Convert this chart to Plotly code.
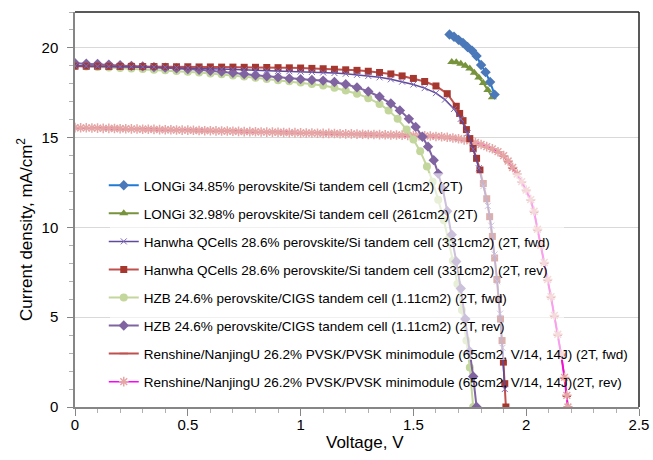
import plotly.graph_objects as go

# ---------------- data ----------------
V_longi_1 = [1.66, 1.68, 1.70, 1.72, 1.74, 1.76, 1.78, 1.80, 1.82, 1.84, 1.86]
J_longi_1 = [20.75, 20.62, 20.45, 20.28, 20.05, 19.85, 19.55, 19.05, 18.65, 18.10, 17.40]

V_longi_2 = [1.67, 1.69, 1.71, 1.73, 1.75, 1.77, 1.79, 1.81, 1.83, 1.85]
J_longi_2 = [19.22, 19.20, 19.12, 19.00, 18.85, 18.62, 18.35, 18.05, 17.65, 17.25]

V_hanwha_fwd = [0.00, 0.05, 0.10, 0.15, 0.20, 0.25, 0.30, 0.35, 0.40, 0.45, 0.50, 0.55, 0.60,
                0.65, 0.70, 0.75, 0.80, 0.85, 0.90, 0.95, 1.00, 1.05, 1.10, 1.15, 1.20, 1.25,
                1.30, 1.35, 1.40, 1.45, 1.50, 1.55, 1.60, 1.64, 1.68, 1.71, 1.74, 1.765, 1.79,
                1.81, 1.83, 1.845, 1.86, 1.872, 1.884, 1.895, 1.905]
J_hanwha_fwd = [19.00, 18.99, 18.98, 18.97, 18.96, 18.95, 18.94, 18.93, 18.92, 18.90, 18.88, 18.86, 18.84,
                18.82, 18.80, 18.78, 18.76, 18.74, 18.72, 18.70, 18.68, 18.66, 18.63, 18.60, 18.56, 18.50,
                18.44, 18.36, 18.25, 18.12, 17.96, 17.76, 17.48, 17.12, 16.60, 16.05, 15.25, 14.35, 13.30,
                12.30, 11.20, 10.10, 8.50, 7.00, 5.20, 3.30, 1.00]

V_hanwha_rev = [0.00, 0.05, 0.10, 0.15, 0.20, 0.25, 0.30, 0.35, 0.40, 0.45, 0.50, 0.55, 0.60,
                0.65, 0.70, 0.75, 0.80, 0.85, 0.90, 0.95, 1.00, 1.05, 1.10, 1.15, 1.20, 1.25,
                1.30, 1.35, 1.40, 1.45, 1.50, 1.55, 1.60, 1.65, 1.69, 1.705, 1.72, 1.735, 1.75,
                1.765, 1.78, 1.795, 1.81, 1.825, 1.838, 1.85, 1.86, 1.87, 1.878, 1.886, 1.893,
                1.899, 1.905, 1.91]
J_hanwha_rev = [18.98, 18.98, 18.98, 18.97, 18.97, 18.97, 18.96, 18.96, 18.96, 18.95, 18.95, 18.94, 18.94,
                18.93, 18.93, 18.92, 18.92, 18.91, 18.90, 18.89, 18.88, 18.86, 18.84, 18.81, 18.78, 18.75,
                18.70, 18.63, 18.55, 18.44, 18.30, 18.13, 17.88, 17.45, 16.75, 16.35, 15.95, 15.45, 14.95,
                14.40, 13.85, 13.20, 12.45, 11.60, 10.60, 9.50, 8.30, 7.10, 6.00, 4.90, 3.70,
                2.50, 1.30, 0.00]

V_hzb_fwd = [0.00, 0.05, 0.10, 0.15, 0.20, 0.25, 0.30, 0.35, 0.40, 0.45, 0.50, 0.55, 0.60,
             0.65, 0.70, 0.75, 0.80, 0.85, 0.90, 0.95, 1.00, 1.05, 1.10, 1.15, 1.20, 1.25,
             1.30, 1.35, 1.39, 1.43, 1.47, 1.50, 1.53, 1.56, 1.585, 1.61, 1.635, 1.655, 1.675,
             1.695, 1.715, 1.735, 1.75, 1.765]
J_hzb_fwd = [19.00, 18.97, 18.94, 18.91, 18.88, 18.85, 18.82, 18.79, 18.75, 18.71, 18.67, 18.63, 18.58,
             18.53, 18.47, 18.41, 18.34, 18.27, 18.20, 18.14, 18.07, 17.99, 17.90, 17.78, 17.63, 17.45,
             17.20, 16.88, 16.52, 16.05, 15.45, 14.90, 14.25, 13.40, 12.55, 11.55, 10.40, 9.35, 8.15,
             6.85, 5.40, 3.70, 2.20, 0.00]

V_hzb_rev = [0.00, 0.05, 0.10, 0.15, 0.20, 0.25, 0.30, 0.35, 0.40, 0.45, 0.50, 0.55, 0.60,
             0.65, 0.70, 0.75, 0.80, 0.85, 0.90, 0.95, 1.00, 1.05, 1.10, 1.15, 1.20, 1.25,
             1.30, 1.35, 1.40, 1.44, 1.48, 1.51, 1.54, 1.565, 1.59, 1.61, 1.63, 1.65, 1.67,
             1.69, 1.71, 1.73, 1.75, 1.765, 1.78]
J_hzb_rev = [19.15, 19.12, 19.10, 19.07, 19.04, 19.00, 18.97, 18.93, 18.90, 18.86, 18.82, 18.78, 18.73,
             18.68, 18.62, 18.55, 18.48, 18.42, 18.36, 18.30, 18.26, 18.21, 18.18, 18.10, 17.98, 17.80,
             17.57, 17.28, 16.90, 16.52, 16.05, 15.60, 15.05, 14.50, 13.75, 13.00, 12.15, 10.90, 9.60,
             8.10, 6.60, 4.90, 3.10, 1.70, 0.00]

V_renshine = [0.000, 0.025, 0.050, 0.075, 0.100, 0.125, 0.150, 0.175, 0.200, 0.225, 0.250, 0.275,
              0.300, 0.325, 0.350, 0.375, 0.400, 0.425, 0.450, 0.475, 0.500, 0.525, 0.550, 0.575,
              0.600, 0.625, 0.650, 0.675, 0.700, 0.725, 0.750, 0.775, 0.800, 0.825, 0.850, 0.875,
              0.900, 0.925, 0.950, 0.975, 1.000, 1.025, 1.050, 1.075, 1.100, 1.125, 1.150, 1.175,
              1.200, 1.225, 1.250, 1.275, 1.300, 1.325, 1.350, 1.375, 1.400, 1.425, 1.450, 1.475,
              1.500, 1.525, 1.550, 1.575, 1.600, 1.625, 1.650, 1.675, 1.700, 1.725, 1.750, 1.775,
              1.800, 1.825, 1.850, 1.875, 1.900, 1.920, 1.940, 1.960, 1.980, 2.000, 2.020, 2.035,
              2.050, 2.065, 2.080, 2.095, 2.110, 2.125, 2.140, 2.155, 2.170, 2.180, 2.185]
J_renshine_fwd = [15.55, 15.55, 15.54, 15.53, 15.53, 15.52, 15.51, 15.51, 15.50, 15.49, 15.48, 15.48,
                  15.47, 15.46, 15.46, 15.45, 15.44, 15.43, 15.43, 15.42, 15.41, 15.41, 15.40, 15.39,
                  15.38, 15.38, 15.37, 15.36, 15.36, 15.35, 15.34, 15.33, 15.33, 15.32, 15.31, 15.30,
                  15.30, 15.29, 15.28, 15.27, 15.27, 15.26, 15.26, 15.25, 15.24, 15.23, 15.23, 15.22,
                  15.21, 15.20, 15.20, 15.19, 15.18, 15.17, 15.17, 15.16, 15.15, 15.14, 15.14, 15.13,
                  15.12, 15.11, 15.10, 15.08, 15.06, 15.04, 15.01, 14.97, 14.93, 14.87, 14.80, 14.71,
                  14.60, 14.48, 14.36, 14.20, 13.98, 13.66, 13.30, 12.96, 12.52, 12.05, 11.52, 10.85,
                  9.85, 8.95, 8.00, 7.05, 6.10, 5.05, 4.00, 2.90, 1.60, 0.60, 0.00]
J_renshine_rev = [15.56, 15.55, 15.55, 15.54, 15.53, 15.52, 15.52, 15.51, 15.50, 15.50, 15.49, 15.48,
                  15.47, 15.47, 15.46, 15.45, 15.44, 15.44, 15.43, 15.42, 15.42, 15.41, 15.40, 15.39,
                  15.39, 15.38, 15.37, 15.37, 15.36, 15.35, 15.34, 15.34, 15.33, 15.32, 15.31, 15.31,
                  15.30, 15.29, 15.28, 15.28, 15.27, 15.26, 15.26, 15.25, 15.24, 15.24, 15.23, 15.22,
                  15.21, 15.21, 15.20, 15.19, 15.18, 15.18, 15.17, 15.16, 15.15, 15.15, 15.14, 15.13,
                  15.12, 15.11, 15.10, 15.09, 15.07, 15.05, 15.02, 14.98, 14.94, 14.88, 14.82, 14.73,
                  14.62, 14.50, 14.38, 14.22, 14.00, 13.70, 13.34, 12.98, 12.55, 12.08, 11.55, 10.90,
                  9.90, 9.00, 8.05, 7.10, 6.15, 5.10, 4.05, 2.95, 1.65, 0.65, 0.00]

X_TITLE = "Voltage, V"
Y_TITLE = "Current density, mA/cm<sup>2</sup>"

# ---------------- figure ----------------
fig = go.Figure()

def add_series(name, x, y, line_color, line_width, symbol, size, mcolor, mline, rank):
    fig.add_trace(go.Scatter(
        x=x, y=y, name=name, mode="lines+markers",
        line=dict(color=line_color, width=line_width),
        marker=dict(symbol=symbol, size=size, color=mcolor,
                    line=dict(width=mline, color=mcolor)),
        legendgroup="g%d" % rank, legendrank=rank,
    ))

add_series("Renshine/NanjingU 26.2% PVSK/PVSK minimodule (65cm2, V/14, 14J) (2T, fwd)",
           V_renshine, J_renshine_fwd, "#C0504D", 2, "line-ew-open", 6, "#C0504D", 1.5, 7)
add_series("Renshine/NanjingU 26.2% PVSK/PVSK minimodule (65cm2, V/14, 14J)(2T, rev)",
           V_renshine, J_renshine_rev, "#FF00FF", 1.5, "asterisk-open", 8, "#E6A6A6", 1.5, 8)
add_series("HZB 24.6% perovskite/CIGS tandem cell (1.11cm2) (2T, fwd)",
           V_hzb_fwd, J_hzb_fwd, "#C3D69B", 2, "circle", 8, "#C3D69B", 0, 5)
add_series("HZB 24.6% perovskite/CIGS tandem cell (1.11cm2) (2T, rev)",
           V_hzb_rev, J_hzb_rev, "#8064A2", 2, "diamond", 8, "#8064A2", 0, 6)
add_series("Hanwha QCells 28.6% perovskite/Si tandem cell (331cm2) (2T, rev)",
           V_hanwha_rev, J_hanwha_rev, "#C0504D", 2, "square", 7, "#A5372F", 0, 4)
add_series("Hanwha QCells 28.6% perovskite/Si tandem cell (331cm2) (2T, fwd)",
           V_hanwha_fwd, J_hanwha_fwd, "#604A9B", 1.5, "x-thin-open", 6, "#7E6BB8", 1, 3)
add_series("LONGi 32.98% perovskite/Si tandem cell (261cm2) (2T)",
           V_longi_2, J_longi_2, "#77933C", 2, "triangle-up", 8, "#77933C", 0, 2)
add_series("LONGi 34.85% perovskite/Si tandem cell (1cm2) (2T)",
           V_longi_1, J_longi_1, "#1F7AD6", 2, "diamond", 8, "#4A78B8", 0, 1)

font_family = "Liberation Sans, Arial, sans-serif"

# plot area: x 75..639 px, y 12..407 px
PW, PH = 564.0, 395.0

fig.update_layout(
    width=653, height=460, autosize=False,
    margin=dict(l=75, r=14, t=12, b=53, pad=0),
    paper_bgcolor="white", plot_bgcolor="white",
    font=dict(family=font_family, color="#000000", size=15),
    showlegend=True,
    legend=dict(
        x=0.051, y=0.6, xanchor="left", yanchor="top",
        bgcolor="rgba(0,0,0,0)", borderwidth=0,
        font=dict(family=font_family, size=13.5, color="#000000"),
        tracegroupgap=7.5, itemwidth=30,
    ),
    shapes=[
        dict(type="rect", xref="paper", yref="paper", x0=0.062, x1=0.867, y0=0.119, y1=0.592,
             fillcolor="rgba(255,255,255,0.6)", line=dict(width=0), layer="above"),
        dict(type="line", xref="paper", yref="paper", x0=0, x1=1, y0=1, y1=1,
             line=dict(color="#222222", width=1.5), layer="above"),
        dict(type="line", xref="paper", yref="paper", x0=1, x1=1, y0=0, y1=1,
             line=dict(color="#222222", width=1.5), layer="above"),
    ],
    annotations=[
        dict(text=X_TITLE, xref="paper", yref="paper",
             x=(365 - 75) / PW, y=-(442 - 407) / PH, xanchor="center", yanchor="middle",
             showarrow=False, font=dict(size=17, family=font_family, color="#000000")),
        dict(text=Y_TITLE, xref="paper", yref="paper", textangle=-90,
             x=(25 - 75) / PW, y=(407 - 230) / PH, xanchor="center", yanchor="middle",
             showarrow=False, font=dict(size=17, family=font_family, color="#000000")),
    ],
)

fig.update_xaxes(
    range=[0, 2.5], dtick=0.5, tick0=0, automargin=False,
    showgrid=False, zeroline=False,
    showline=True, linecolor="#868686", linewidth=1.5,
    ticks="outside", ticklen=7, tickcolor="#868686", tickwidth=1,
    minor=dict(dtick=0.1, ticks="outside", ticklen=4, tickcolor="#B0B0B0", showgrid=False),
    tickfont=dict(size=15), ticklabelstandoff=-4,
)
fig.update_yaxes(
    range=[0, 22], dtick=5, tick0=0, automargin=False,
    showgrid=True, gridcolor="#D9D9D9", gridwidth=1, zeroline=False,
    showline=True, linecolor="#868686", linewidth=1.5,
    ticks="outside", ticklen=6, tickcolor="#868686", tickwidth=1,
    minor=dict(dtick=1, ticks="outside", ticklen=4, tickcolor="#B0B0B0", showgrid=False),
    tickfont=dict(size=15), ticklabelstandoff=6,
)

fig.write_html("out.html")
